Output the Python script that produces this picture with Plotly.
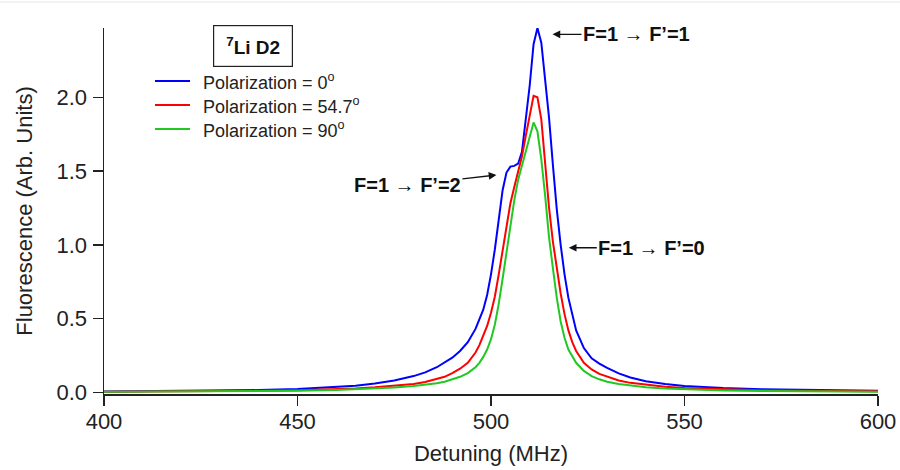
import plotly.graph_objects as go

# Detuning axis (MHz)
detuning = [400, 410, 420, 430, 440, 450, 460, 465, 470, 475, 480, 483, 486, 488, 490,
            492, 494, 496, 497, 498, 499, 500, 501, 502, 503, 504, 505, 506, 507, 508,
            509, 510, 511, 512, 513, 514, 515, 516, 517, 518, 519, 520, 521, 522, 524,
            526, 528, 530, 533, 536, 540, 545, 550, 560, 570, 580, 590, 600]

pol_0 = [0.006, 0.007, 0.009, 0.012, 0.015, 0.022, 0.035, 0.045, 0.060, 0.080, 0.110, 0.135,
         0.170, 0.200, 0.235, 0.280, 0.340, 0.430, 0.490, 0.560, 0.660, 0.800, 0.970, 1.170,
         1.370, 1.490, 1.530, 1.535, 1.550, 1.630, 1.860, 2.080, 2.360, 2.470, 2.370, 2.120,
         1.860, 1.540, 1.240, 1.000, 0.800, 0.640, 0.520, 0.420, 0.300, 0.230, 0.195, 0.165,
         0.128, 0.100, 0.075, 0.056, 0.043, 0.029, 0.021, 0.016, 0.012, 0.010]

pol_547 = [0.004, 0.005, 0.006, 0.008, 0.010, 0.014, 0.021, 0.026, 0.034, 0.043, 0.057, 0.070,
           0.088, 0.105, 0.130, 0.160, 0.200, 0.270, 0.320, 0.380, 0.450, 0.540, 0.650, 0.800,
           0.970, 1.120, 1.280, 1.390, 1.490, 1.600, 1.740, 1.880, 2.010, 2.000, 1.850, 1.550,
           1.250, 1.020, 0.830, 0.670, 0.530, 0.420, 0.340, 0.280, 0.200, 0.155, 0.125, 0.105,
           0.080, 0.064, 0.050, 0.037, 0.029, 0.019, 0.014, 0.010, 0.008, 0.007]

pol_90 = [0.003, 0.004, 0.005, 0.006, 0.008, 0.011, 0.016, 0.020, 0.025, 0.032, 0.042, 0.050,
          0.062, 0.072, 0.086, 0.105, 0.130, 0.170, 0.200, 0.240, 0.290, 0.360, 0.460, 0.600,
          0.770, 0.950, 1.130, 1.300, 1.440, 1.540, 1.630, 1.730, 1.830, 1.770, 1.580, 1.330,
          1.050, 0.840, 0.640, 0.480, 0.370, 0.290, 0.240, 0.200, 0.145, 0.110, 0.088, 0.072,
          0.056, 0.045, 0.035, 0.026, 0.020, 0.013, 0.009, 0.007, 0.005, 0.004]

series_names = ["Polarization = 0<sup>o</sup>",
                "Polarization = 54.7<sup>o</sup>",
                "Polarization = 90<sup>o</sup>"]
series_colors = ["#0000ff", "#ff0000", "#22c822"]

x_ticks = [400, 450, 500, 550, 600]
y_ticks = [0.0, 0.5, 1.0, 1.5, 2.0]

FONT = "Arial"

fig = go.Figure()
for ys, name, col in zip([pol_0, pol_547, pol_90], series_names, series_colors):
    fig.add_trace(go.Scatter(x=detuning, y=ys, mode="lines", name=name,
                             line=dict(color=col, width=2), showlegend=False,
                             hoverinfo="skip"))

L, R, T, B = 104, 22, 28, 76
W, H = 900, 470
pw, ph = W - L - R, H - T - B

def px(xp):
    return (xp - L) / pw

def py(yp):
    return (H - B - yp) / ph

fig.update_layout(
    width=W, height=H,
    margin=dict(l=L, r=R, t=T, b=B, autoexpand=False),
    paper_bgcolor="white", plot_bgcolor="white",
    font=dict(family=FONT, size=20, color="#222"),
    showlegend=False,
    xaxis=dict(range=[400, 600], tickvals=x_ticks, ticks="outside", ticklen=10,
               tickwidth=1.5, tickcolor="#222", showline=True, linecolor="#222",
               linewidth=1.5, showgrid=False, zeroline=False, ticklabelstandoff=-3,
               automargin=False,
               title=dict(text="Detuning (MHz)", standoff=12,
                          font=dict(family=FONT, size=22, color="#222")),
               tickfont=dict(family=FONT, size=22, color="#222")),
    yaxis=dict(range=[-0.0115, 2.47], tickvals=y_ticks, tickformat=".1f",
               ticks="outside", ticklen=10, tickwidth=1.5, tickcolor="#222",
               showline=True, linecolor="#222", linewidth=1.5, showgrid=False,
               zeroline=False, ticklabelstandoff=1, automargin=False,
               title=dict(text="Fluorescence (Arb. Units)", standoff=18,
                          font=dict(family=FONT, size=22, color="#222")),
               tickfont=dict(family=FONT, size=22, color="#222")),
)

# legend drawn as sample lines + labels
leg_rows = [81, 105, 129]
for yrow, name, col in zip(leg_rows, series_names, series_colors):
    fig.add_shape(type="line", xref="paper", yref="paper",
                  x0=px(155), x1=px(190), y0=py(yrow), y1=py(yrow),
                  line=dict(color=col, width=2))
    fig.add_annotation(xref="paper", yref="paper", x=px(201), y=py(yrow),
                       xanchor="left", yanchor="middle", text=name, showarrow=False,
                       font=dict(family=FONT, size=18, color="#222"))

# boxed label
fig.add_annotation(xref="paper", yref="paper", x=px(253), y=py(45.5),
                   xanchor="center", yanchor="middle", width=62, align="center",
                   text="<b><sup>7</sup>Li D2</b>", showarrow=False,
                   font=dict(family=FONT, size=19, color="#111"), bordercolor="#222",
                   borderwidth=1.2, borderpad=8, bgcolor="white")

ann_font = dict(family=FONT, size=20, color="#111")
ann = [
    (515.9, 2.427, "<b>F=1 → F’=1</b>", 84, 0),
    (501.4, 1.473, "<b>F=1 → F’=2</b>", -89, 10),
    (520.1, 0.980, "<b>F=1 → F’=0</b>", 83, 0),
]
for xa, ya, txt, ax, ay in ann:
    fig.add_annotation(x=xa, y=ya, xref="x", yref="y", text=txt, showarrow=True,
                       ax=ax, ay=ay, axref="pixel", ayref="pixel",
                       arrowhead=2, arrowsize=1.1, arrowwidth=1.4, arrowcolor="#111",
                       font=ann_font)

# faint top border line of the original image
fig.add_shape(type="line", xref="paper", yref="paper", x0=px(0), x1=px(900),
              y0=py(2), y1=py(2), line=dict(color="#e6e6e6", width=1))

fig.write_html("out.html",
               config={"displayModeBar": False, "staticPlot": True},
               post_script="document.body.style.margin='0';"
                           "document.body.style.overflow='hidden';")
